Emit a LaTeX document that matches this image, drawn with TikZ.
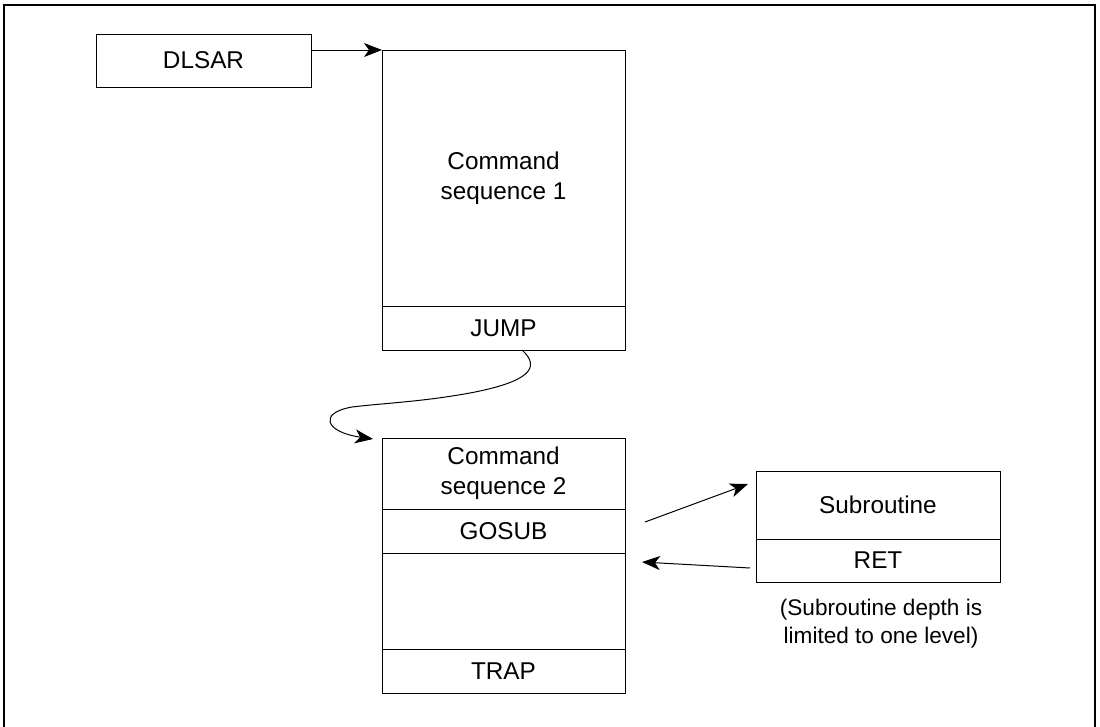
\documentclass[tikz,border=0pt]{standalone}
\usepackage{fontspec}
\setmainfont{Liberation Sans}
\usetikzlibrary{arrows.meta}
\begin{document}
\begin{tikzpicture}[x=1pt,y=-1pt,
  cell/.style={draw=black, line width=1pt, inner sep=0pt, outer sep=0pt, align=center,
    font=\fontsize{24.3}{30}\selectfont},
  conn/.style={draw=black, line width=1pt, -{Stealth[length=18pt,width=14pt,inset=5pt]}},
  note/.style={align=center, font=\fontsize{22.6}{28}\selectfont, inner sep=0pt}]
\useasboundingbox (0,0) rectangle (1100,726);
\begin{scope}
\clip (0,0) rectangle (1100,726);
\draw[line width=2pt] (4,5) rectangle (1095,760);
\end{scope}
% DLSAR
\node[cell, minimum width=215, minimum height=53] (dlsar) at (203.5,60.5) {DLSAR};
% box 1
\node[cell, minimum width=243, minimum height=256] (cs1) at (503.5,178) {Command\\sequence 1};
\node[cell, minimum width=243, minimum height=44] (jump) at (503.5,328) {JUMP};
% box 2
\node[cell, minimum width=243, minimum height=71] (cs2) at (503.5,473.5) {Command\\sequence 2};
\node[cell, minimum width=243, minimum height=44] (gosub) at (503.5,531) {GOSUB};
\node[cell, minimum width=243, minimum height=96] (empty) at (503.5,601) {};
\node[cell, minimum width=243, minimum height=44] (trap) at (503.5,671) {TRAP};
% subroutine
\node[cell, minimum width=244, minimum height=68] (sub) at (878,505) {Subroutine};
\node[cell, minimum width=244, minimum height=43] (ret) at (878,560.5) {RET};
\node[note] (nt) at (881,624) {(Subroutine depth is\\limited to one level)};
% connectors
\draw[conn] (dlsar.east |- cs1.north west) -- (cs1.north west);
\coordinate (cstart) at (522,350);
\coordinate (cend) at (373,439);
\draw[conn] (cstart) .. controls (542,368) and (528,382) .. (470,393)
  .. controls (420,402) and (385,403) .. (352,407)
  .. controls (318,413) and (325,432) .. (cend);
\coordinate (a1s) at (645,522);
\coordinate (a1e) at (748,484);
\draw[conn] (a1s) -- (a1e);
\coordinate (a2s) at (750,568);
\coordinate (a2e) at (642,562);
\draw[conn] (a2s) -- (a2e);
\end{tikzpicture}
\end{document}
